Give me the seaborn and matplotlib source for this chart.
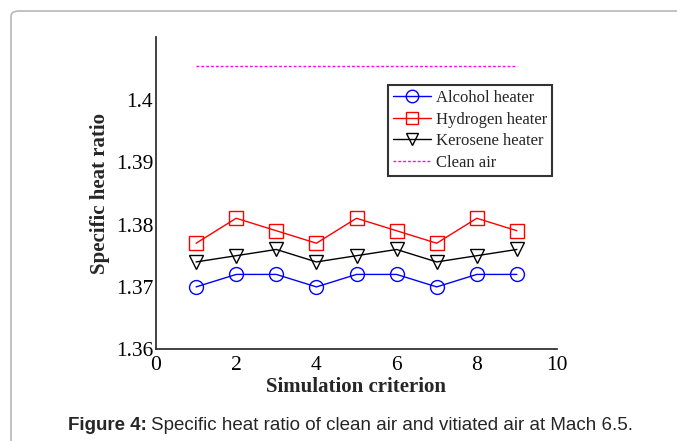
import matplotlib
matplotlib.use("Agg")
import matplotlib.pyplot as plt
import seaborn as sns
import pandas as pd
from matplotlib.patches import FancyBboxPatch

criterion = [1, 2, 3, 4, 5, 6, 7, 8, 9]
alcohol = [1.370, 1.372, 1.372, 1.370, 1.372, 1.372, 1.370, 1.372, 1.372]
hydrogen = [1.377, 1.381, 1.379, 1.377, 1.381, 1.379, 1.377, 1.381, 1.379]
kerosene = [1.374, 1.375, 1.376, 1.374, 1.375, 1.376, 1.374, 1.375, 1.376]
clean_air_x = [1, 9]
clean_air = [1.4054, 1.4054]
x_ticks = [0, 2, 4, 6, 8, 10]
y_ticks = [1.36, 1.37, 1.38, 1.39, 1.40]
y_tick_labels = ["1.36", "1.37", "1.38", "1.39", "1.4"]

sns.set_style("white")
plt.rcParams["font.family"] = ["Liberation Serif", "DejaVu Serif"]

fig = plt.figure(figsize=(6.77, 4.41), dpi=100)
ax = fig.add_axes([156 / 677, 1 - 349.3 / 441, (557 - 156) / 677, (349.3 - 37.3) / 441])

df = pd.DataFrame({"x": criterion, "alc": alcohol, "hyd": hydrogen, "ker": kerosene})
df_air = pd.DataFrame({"x": clean_air_x, "y": clean_air})

def common(c):
    return dict(color=c, markersize=10, markerfacecolor="none", markeredgecolor=c,
                linewidth=1, markeredgewidth=1)

sns.lineplot(data=df, x="x", y="alc", ax=ax, marker="o",
             label="Alcohol heater", **common("#0000ff"))
sns.lineplot(data=df, x="x", y="hyd", ax=ax, marker="s",
             label="Hydrogen heater", **common("#ff0000"))
sns.lineplot(data=df, x="x", y="ker", ax=ax, marker="v",
             label="Kerosene heater", **common("#000000"))
sns.lineplot(data=df_air, x="x", y="y", ax=ax, color="#ff00ff", linestyle=(0, (2, 1.5)),
             linewidth=1, label="Clean air")

ax.set_xlim(0, 10)
ax.set_ylim(1.36, 1.41)
ax.set_xticks(x_ticks)
ax.set_xticklabels([str(t) for t in x_ticks])
ax.set_yticks(y_ticks)
ax.set_yticklabels(y_tick_labels)
ax.tick_params(direction="in", length=4, width=1, labelsize=15.5, colors="black", pad=2)
ax.tick_params(axis="x", pad=5)
for s in ["top", "right"]:
    ax.spines[s].set_visible(False)
for s in ["left", "bottom"]:
    ax.spines[s].set_color("#333333")
    ax.spines[s].set_linewidth(1.3)

ax.set_xlabel("Simulation criterion", fontsize=15, fontweight="bold", labelpad=1)
ax.set_ylabel("Specific heat ratio", fontsize=15, fontweight="bold", labelpad=4)

leg = ax.legend(loc="upper left", bbox_to_anchor=((387.7 - 156) / 401, (349.3 - 85.3) / 312),
                fontsize=12, frameon=True, fancybox=False, borderpad=0.3,
                labelspacing=0.33, handlelength=2.3, handletextpad=0.3,
                borderaxespad=0, markerscale=0.9)
leg.get_frame().set_edgecolor("black")
leg.get_frame().set_linewidth(1.5)

border = FancyBboxPatch((11 / 677, -0.1), 1.2, 1 - 11 / 441 + 0.1,
                        boxstyle="round,pad=0,rounding_size=0.012",
                        transform=fig.transFigure, facecolor="none",
                        edgecolor="#b8b8b8", linewidth=1.2, clip_on=False)
fig.patches.append(border)

sans = ["Liberation Sans", "DejaVu Sans"]
t1 = fig.text(68 / 677, 1 - 425 / 441, "Figure 4:", fontsize=13.5, fontweight="bold",
              family=sans, va="center", ha="left")
renderer = fig.canvas.get_renderer()
bb = t1.get_window_extent(renderer=renderer)
fig.text((bb.x1 + 4) / 677, 1 - 425 / 441,
         "Specific heat ratio of clean air and vitiated air at Mach 6.5.",
         fontsize=13.5, family=sans, va="center", ha="left")

fig.savefig("out.png", dpi=100)
